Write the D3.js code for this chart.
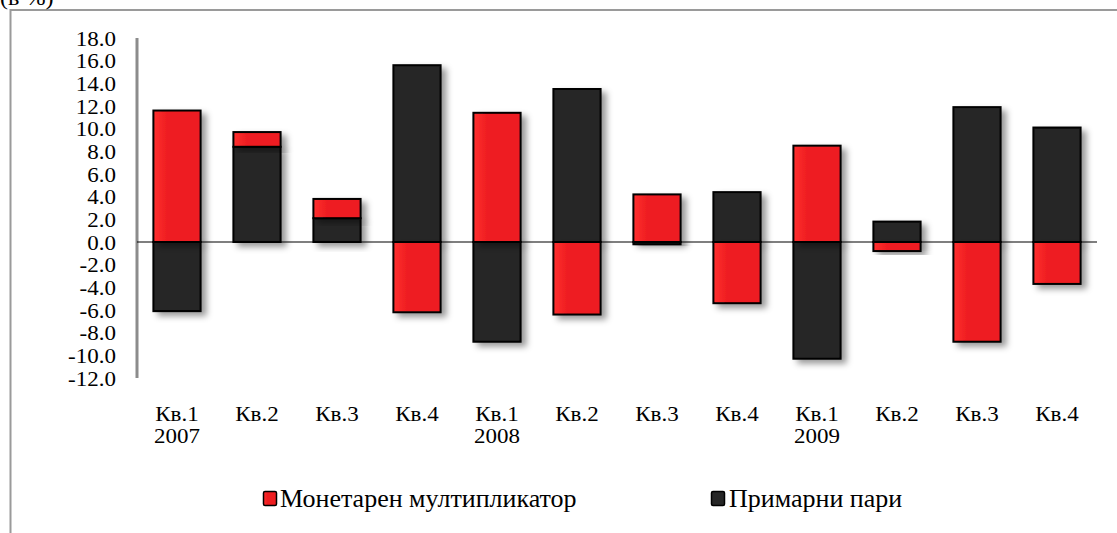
<!DOCTYPE html>
<html><head><meta charset="utf-8">
<script src="https://cdn.jsdelivr.net/npm/d3@7"></script>
<style>html,body{margin:0;padding:0;background:#fff;overflow:hidden}svg{display:block}</style>
</head><body>
<svg id="chart" width="1117" height="533"></svg>
<script>
const quarters = ["Кв.1","Кв.2","Кв.3","Кв.4","Кв.1","Кв.2","Кв.3","Кв.4","Кв.1","Кв.2","Кв.3","Кв.4"];
const years = ["2007","","","","2008","","","","2009","","",""];
const multiplier = [11.6, 1.3, 1.7, -6.2, 11.4, -6.4, 4.2, -5.4, 8.5, -0.8, -8.8, -3.7];
const primaryMoney = [-6.1, 8.4, 2.1, 15.6, -8.8, 13.5, -0.2, 4.4, -10.3, 1.8, 11.9, 10.1];
const yTicks = [18,16,14,12,10,8,6,4,2,0,-2,-4,-6,-8,-10,-12];
const seriesNames = ["Монетарен мултипликатор", "Примарни пари"];
const colors = {red: "#ee1d20", dark: "#262626"};
const SX = 1.15;

const svg = d3.select("#chart");
const defs = svg.append("defs");
const f = defs.append("filter").attr("id","sh").attr("x","-30%").attr("y","-30%").attr("width","170%").attr("height","170%");
f.append("feDropShadow").attr("dx",5).attr("dy",4).attr("stdDeviation",3).attr("flood-color","#000").attr("flood-opacity",0.4);
const gr = defs.append("linearGradient").attr("id","gred").attr("x1","0").attr("x2","1").attr("y1","0").attr("y2","0");
gr.append("stop").attr("offset","0").attr("stop-color","#ff3030");
gr.append("stop").attr("offset","0.3").attr("stop-color","#ee1d20");
gr.append("stop").attr("offset","1").attr("stop-color","#ee1d20");

// frame
svg.append("rect").attr("x",10.5).attr("y",10).attr("width",1200).attr("height",600)
  .attr("fill","none").attr("stroke","#9a9a9a").attr("stroke-width",2);

function stext(g, x, y, txt, size, anchor, sx) {
  const t = g.append("g").attr("transform",`translate(${x},${y}) scale(${sx===undefined?SX:sx},1)`)
    .append("text").attr("font-family","Liberation Serif, Times New Roman, serif")
    .attr("font-size",size).attr("fill","#000").attr("text-anchor",anchor||"start").text(txt);
  return t;
}
stext(svg, 0, 5, "(в %)", 21);

const x = d3.scaleBand().domain(d3.range(quarters.length)).range([137,1097]).paddingInner(0.41).paddingOuter(0.205);
const y = d3.scaleLinear().domain([-12,18]).range([378,38]);

// y axis
const ax = svg.append("g").attr("transform","translate(137,0)")
  .call(d3.axisLeft(y).tickValues(yTicks).tickSize(0).tickPadding(0).tickFormat(d3.format(".1f")));
ax.select(".domain").remove();
ax.selectAll(".tick text").remove();
ax.selectAll(".tick").each(function(d){
  stext(d3.select(this), -21, 7, d3.format(".1f")(d).replace("\u2212","-"), 20, "end");
});
svg.append("line").attr("x1",137).attr("x2",137).attr("y1",y(18)).attr("y2",y(-12))
  .attr("stroke","#8c8c8c").attr("stroke-width",3);

// stacked data: dark first (closest to zero), red second
const rows = quarters.map((q,i)=>({i, dark: primaryMoney[i], red: multiplier[i]}));
const stack = d3.stack().keys(["dark","red"]).offset(d3.stackOffsetDiverging);
const layers = stack(rows);

const barsG = svg.append("g");
layers.forEach(layer=>{
  barsG.append("g").selectAll("rect").data(layer).join("rect")
    .attr("x", d=>x(d.data.i))
    .attr("width", x.bandwidth())
    .attr("y", d=>y(Math.max(d[0],d[1])))
    .attr("height", d=>Math.abs(y(d[0])-y(d[1])))
    .attr("fill", layer.key==="red" ? "url(#gred)" : colors.dark)
    .attr("stroke","#000").attr("stroke-width",2)
    .attr("filter","url(#sh)");
});

// zero line
svg.append("line").attr("x1",137).attr("x2",1097).attr("y1",y(0)).attr("y2",y(0))
  .attr("stroke","#000").attr("stroke-width",1.2);

// category labels
const catG = svg.append("g");
quarters.forEach((q,i)=>{
  const cx = x(i)+x.bandwidth()/2;
  stext(catG, cx, 421, q, 20, "middle");
  if (years[i]) stext(catG, cx, 443, years[i], 20, "middle");
});

// legend
const leg = [{name: seriesNames[0], fill: "url(#gred)", sx: 263, tx: 280},
             {name: seriesNames[1], fill: colors.dark, sx: 711, tx: 729}];
leg.forEach(l=>{
  svg.append("rect").attr("x",l.sx+0.5).attr("y",491.5).attr("width",13).attr("height",14)
    .attr("fill",l.fill).attr("stroke","#000").attr("stroke-width",1.5).attr("rx",1.5);
  stext(svg, l.tx, 507, l.name, 26, "start", 1);
});
</script>
</body></html>
